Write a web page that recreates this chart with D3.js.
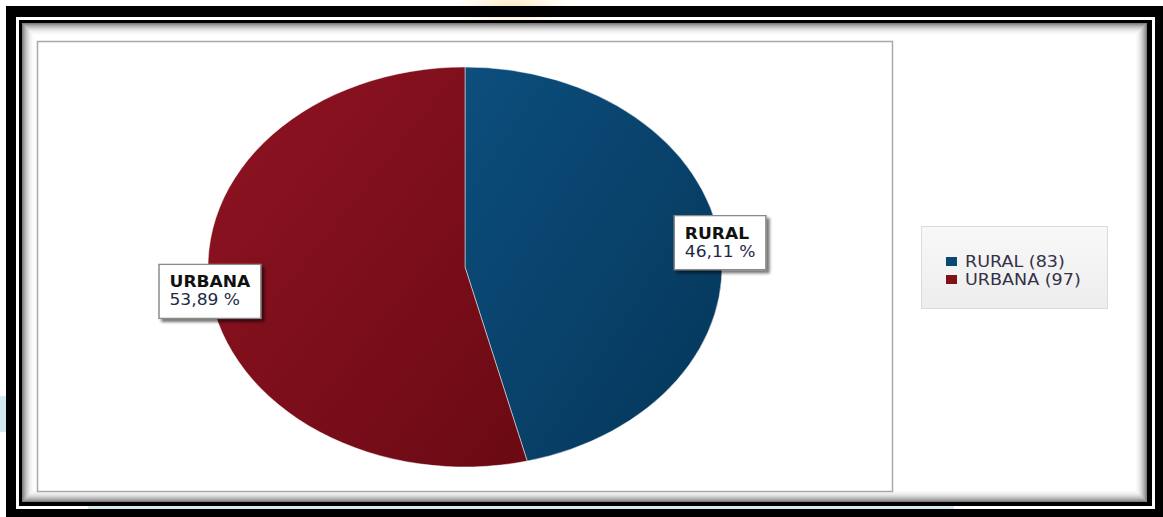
<!DOCTYPE html>
<html>
<head>
<meta charset="utf-8">
<script src="https://cdn.jsdelivr.net/npm/d3@7"></script>
<style>
  html, body { margin: 0; padding: 0; background: #fff; }
  svg { display: block; }
  text { font-family: "DejaVu Sans", Verdana, sans-serif; }
</style>
</head>
<body>
<svg id="chart" width="1163" height="517"></svg>
<script>
// Population by area
const categories = ["RURAL", "URBANA"];
const counts = [83, 97];
const sliceColors = ["#0a4874", "#821019"];
const gradStops = [["#0c4e7d", "#053659"], ["#901323", "#6a0a13"]];

const W = 1163, H = 517;
const svg = d3.select("#chart");
const defs = svg.append("defs");

// faint backdrop tints around the frame
defs.append("radialGradient").attr("id", "glow")
  .selectAll("stop").data([["0%", "#fde3a8", 0.9], ["100%", "#fff3d6", 0]])
  .join("stop").attr("offset", d => d[0]).attr("stop-color", d => d[1]).attr("stop-opacity", d => d[2]);
svg.append("ellipse").attr("cx", 512).attr("cy", 8).attr("rx", 64).attr("ry", 20).attr("fill", "url(#glow)");
svg.append("rect").attr("x", 0).attr("y", 396).attr("width", 6).attr("height", 36).attr("fill", "#d4e9f0");
svg.append("rect").attr("x", 88).attr("y", 506).attr("width", 866).attr("height", 3).attr("fill", "#d4e9f0");

// double black frame
const frame = svg.append("g");
frame.append("rect").attr("x", 6).attr("y", 6).attr("width", W - 6).attr("height", 11).attr("fill", "#000");
frame.append("rect").attr("x", 6).attr("y", 6).attr("width", 10).attr("height", H - 6).attr("fill", "#000");
frame.append("rect").attr("x", 1155).attr("y", 6).attr("width", 8).attr("height", H - 6).attr("fill", "#000");
frame.append("rect").attr("x", 6).attr("y", 509).attr("width", W - 6).attr("height", 8).attr("fill", "#000");
frame.append("rect").attr("x", 19).attr("y", 20).attr("width", 1133).attr("height", 486).attr("fill", "#000");
frame.append("rect").attr("x", 22).attr("y", 23).attr("width", 1125).attr("height", 479).attr("fill", "#fff");

// inner shadow along the inside of the frame
const shadowSteps = d3.range(0, 13);
frame.selectAll("rect.shade").data(shadowSteps).join("rect")
  .attr("class", "shade")
  .attr("x", i => 22.5 + i).attr("y", i => 23.5 + i)
  .attr("width", i => 1124 - 2 * i).attr("height", i => 478 - 2 * i)
  .attr("fill", "none").attr("stroke", "#000")
  .attr("stroke-opacity", i => 0.5 * Math.pow(1 - i / 13, 2.2));
frame.append("rect").attr("x", 35).attr("y", 36).attr("width", 1099).attr("height", 453).attr("fill", "#fff");

// plot area border
svg.append("rect").attr("x", 37.5).attr("y", 41.5).attr("width", 855).attr("height", 450)
  .attr("fill", "#fff").attr("stroke", "#a9a9a9").attr("stroke-width", 1.5);

// pie
const cx = 465, cy = 267, rx = 257, ry = 200;
const total = d3.sum(counts);
const data = categories.map((c, i) => ({ name: c, value: counts[i], i }));
const pie = d3.pie().value(d => d.value).sort(null);
const arcs = pie(data);
const arc = d3.arc().innerRadius(0).outerRadius(rx);

arcs.forEach((a, i) => {
  const g = defs.append("linearGradient").attr("id", "sl" + i)
    .attr("x1", 0).attr("y1", 0).attr("x2", 1).attr("y2", 1);
  g.append("stop").attr("offset", "0%").attr("stop-color", gradStops[i][0]);
  g.append("stop").attr("offset", "100%").attr("stop-color", gradStops[i][1]);
});

const pieG = svg.append("g").attr("transform", `translate(${cx},${cy}) scale(1,${ry / rx})`);
pieG.selectAll("path").data(arcs).join("path")
  .attr("d", arc)
  .attr("fill", (d, i) => `url(#sl${i})`)
  .attr("stroke", "#fff").attr("stroke-width", 0.8)
  .attr("stroke-opacity", 0.6)
  .attr("vector-effect", "non-scaling-stroke");

// value labels
const fmtLocale = d3.formatLocale({ decimal: ",", thousands: ".", grouping: [3], currency: ["", ""] });
const fmtPct = fmtLocale.format(".2f");
const sx = 1.14;

const shadowF = defs.append("filter").attr("id", "boxShadow")
  .attr("x", "-20%").attr("y", "-20%").attr("width", "150%").attr("height", "150%");
shadowF.append("feGaussianBlur").attr("in", "SourceAlpha").attr("stdDeviation", 1.6).attr("result", "b");
shadowF.append("feOffset").attr("in", "b").attr("dx", 2.5).attr("dy", 2.5).attr("result", "o");
shadowF.append("feComponentTransfer").attr("in", "o").attr("result", "s")
  .append("feFuncA").attr("type", "linear").attr("slope", 0.55);
const mg = shadowF.append("feMerge");
mg.append("feMergeNode").attr("in", "s");
mg.append("feMergeNode").attr("in", "SourceGraphic");

arcs.forEach((a, i) => {
  const mid = (a.startAngle + a.endAngle) / 2;
  const px = cx + rx * Math.sin(mid);
  const py = cy - ry * Math.cos(mid);
  const g = svg.append("g").attr("transform", `translate(${px},${py}) scale(${sx},1)`);
  const box = g.append("rect").attr("fill", "#fff").attr("stroke", "#8a8a8a").attr("stroke-width", 1.3)
    .attr("filter", "url(#boxShadow)");
  const t1 = g.append("text").attr("font-size", 15).attr("font-weight", "bold").attr("fill", "#111")
    .text(a.data.name);
  const t2 = g.append("text").attr("font-size", 15).attr("fill", "#1e2a44")
    .text(fmtPct(a.data.value / total * 100) + " %");
  const tw = Math.max(t1.node().getComputedTextLength(), t2.node().getComputedTextLength());
  const pad = 10.5 / sx;
  const bw = tw + 2 * pad, bh = 54;
  box.attr("x", -bw / 2).attr("y", -bh / 2).attr("width", bw).attr("height", bh);
  t1.attr("x", -bw / 2 + pad).attr("y", -bh / 2 + 23);
  t2.attr("x", -bw / 2 + pad).attr("y", -bh / 2 + 41);
});

// legend
const lg = defs.append("linearGradient").attr("id", "legBg").attr("x1", 0).attr("y1", 0).attr("x2", 0).attr("y2", 1);
lg.append("stop").attr("offset", "0%").attr("stop-color", "#f8f8f8");
lg.append("stop").attr("offset", "100%").attr("stop-color", "#ededed");
svg.append("rect").attr("x", 921.5).attr("y", 226.5).attr("width", 186).attr("height", 82)
  .attr("fill", "url(#legBg)").attr("stroke", "#dcdcdc");

const legend = svg.append("g");
const rowY = d3.scalePoint().domain(categories).range([257, 275]);
legend.selectAll("rect.sw").data(data).join("rect").attr("class", "sw")
  .attr("x", 946).attr("y", d => rowY(d.name)).attr("width", 11).attr("height", 9)
  .attr("fill", (d, i) => sliceColors[i]);
legend.selectAll("text").data(data).join("text")
  .attr("transform", d => `translate(965,${rowY(d.name) + 10}) scale(1.17,1)`)
  .attr("font-size", 15).attr("fill", "#343048")
  .text(d => `${d.name} (${d.value})`);
</script>
</body>
</html>
